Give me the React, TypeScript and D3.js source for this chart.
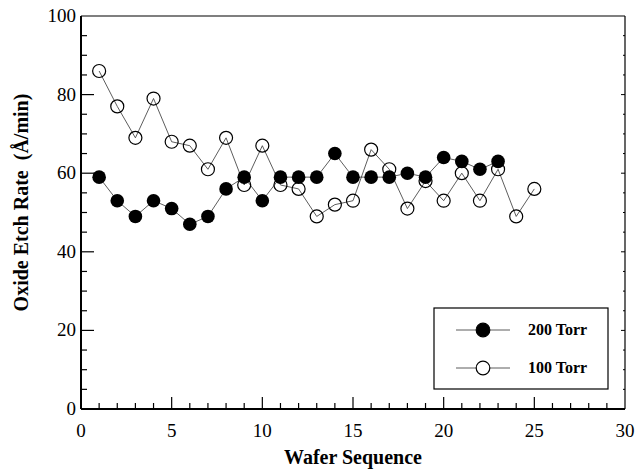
import React, { useEffect, useRef } from 'react';
import * as d3 from 'd3';

// 200 Torr (filled markers), wafers 1..23
const torr200 = [59, 53, 49, 53, 51, 47, 49, 56, 59, 53, 59, 59, 59, 65, 59, 59, 59, 60, 59, 64, 63, 61, 63];
// 100 Torr (open markers), wafers 1..25
const torr100 = [86, 77, 69, 79, 68, 67, 61, 69, 57, 67, 57, 56, 49, 52, 53, 66, 61, 51, 58, 53, 60, 53, 61, 49, 56];

const xTicks = [0, 5, 10, 15, 20, 25, 30];
const yTicks = [0, 20, 40, 60, 80, 100];

export default function App() {
  const ref = useRef<SVGSVGElement>(null);

  useEffect(() => {
    const width = 636;
    const height = 470;
    const margin = { top: 16, right: 11, bottom: 61, left: 81 };
    const font = '"Liberation Serif", "Times New Roman", serif';

    const svg = d3.select(ref.current).attr('viewBox', [0, 0, width, height]);
    svg.selectAll('*').remove();

    const x = d3.scaleLinear().domain([0, 30]).range([margin.left, width - margin.right]);
    const y = d3.scaleLinear().domain([0, 100]).range([height - margin.bottom, margin.top]);

    const g = svg.append('g');

    // frame
    g.append('line').attr('x1', x(0)).attr('x2', x(30)).attr('y1', y(100)).attr('y2', y(100))
      .attr('stroke', '#000').attr('stroke-width', 1.2);
    g.append('line').attr('x1', x(30)).attr('x2', x(30)).attr('y1', y(100)).attr('y2', y(0))
      .attr('stroke', '#000').attr('stroke-width', 1.2);
    g.append('line').attr('x1', x(0)).attr('x2', x(30)).attr('y1', y(0)).attr('y2', y(0))
      .attr('stroke', '#000').attr('stroke-width', 2);
    g.append('line').attr('x1', x(0)).attr('x2', x(0)).attr('y1', y(100)).attr('y2', y(0))
      .attr('stroke', '#000').attr('stroke-width', 2);

    // x ticks (inward)
    d3.range(0, 31).forEach((v) => {
      const len = v % 5 === 0 ? 12 : 6;
      if (v === 0 || v === 30) return;
      g.append('line').attr('x1', x(v)).attr('x2', x(v)).attr('y1', y(0)).attr('y2', y(0) - len)
        .attr('stroke', '#000').attr('stroke-width', 1.2);
    });
    // y ticks (inward), left and right
    d3.range(0, 101, 5).forEach((v) => {
      if (v === 0 || v === 100) return;
      const len = v % 20 === 0 ? 13 : 6;
      g.append('line').attr('x1', x(0)).attr('x2', x(0) + len).attr('y1', y(v)).attr('y2', y(v))
        .attr('stroke', '#000').attr('stroke-width', 1.2);
      g.append('line').attr('x1', x(30)).attr('x2', x(30) - (v % 20 === 0 ? 4 : 2)).attr('y1', y(v)).attr('y2', y(v))
        .attr('stroke', '#000').attr('stroke-width', 1);
    });

    // tick labels
    g.selectAll('.xl').data(xTicks).enter().append('text')
      .attr('x', (d) => x(d)).attr('y', y(0) + 28)
      .attr('text-anchor', 'middle').attr('font-family', font).attr('font-size', 19)
      .text((d) => d);
    g.selectAll('.yl').data(yTicks).enter().append('text')
      .attr('x', x(0) - 5).attr('y', (d) => y(d) + 6)
      .attr('text-anchor', 'end').attr('font-family', font).attr('font-size', 19)
      .text((d) => d);

    // axis titles
    svg.append('text').attr('x', (x(0) + x(30)) / 2).attr('y', 464)
      .attr('text-anchor', 'middle').attr('font-family', font).attr('font-weight', 'bold').attr('font-size', 20)
      .text('Wafer Sequence');
    svg.append('text').attr('transform', `translate(28,${(y(0) + y(100)) / 2 - 10}) rotate(-90)`)
      .attr('text-anchor', 'middle').attr('font-family', font).attr('font-weight', 'bold').attr('font-size', 20)
      .attr('xml:space', 'preserve')
      .text('Oxide Etch Rate  (Å/min)');

    const line = d3.line<number>().x((d, i) => x(i + 1)).y((d) => y(d));

    // 100 Torr
    g.append('path').datum(torr100).attr('d', line).attr('fill', 'none').attr('stroke', '#333').attr('stroke-width', 0.8);
    // 200 Torr
    g.append('path').datum(torr200).attr('d', line).attr('fill', 'none').attr('stroke', '#333').attr('stroke-width', 0.8);

    g.selectAll('.o').data(torr100).enter().append('circle')
      .attr('cx', (d, i) => x(i + 1)).attr('cy', (d) => y(d)).attr('r', 6.5)
      .attr('fill', 'none').attr('stroke', '#000').attr('stroke-width', 1.2);
    g.selectAll('.f').data(torr200).enter().append('circle')
      .attr('cx', (d, i) => x(i + 1)).attr('cy', (d) => y(d)).attr('r', 6.8)
      .attr('fill', '#000');

    // legend
    const lg = svg.append('g');
    lg.append('rect').attr('x', 434).attr('y', 308).attr('width', 174).attr('height', 81)
      .attr('fill', '#fff').attr('stroke', '#000').attr('stroke-width', 1.2);
    const items = [{ label: '200 Torr', filled: true, yy: 330 }, { label: '100 Torr', filled: false, yy: 368 }];
    items.forEach((it) => {
      lg.append('line').attr('x1', 456).attr('x2', 510).attr('y1', it.yy).attr('y2', it.yy)
        .attr('stroke', '#333').attr('stroke-width', 0.8);
      lg.append('circle').attr('cx', 483).attr('cy', it.yy).attr('r', 6.8)
        .attr('fill', it.filled ? '#000' : '#fff').attr('stroke', '#000').attr('stroke-width', 1.2);
      lg.append('text').attr('x', 528).attr('y', it.yy + 5)
        .attr('font-family', font).attr('font-weight', 'bold').attr('font-size', 16)
        .text(it.label);
    });
  });

  return (
    <svg
      ref={ref}
      width={636}
      height={470}
      style={{ position: 'absolute', left: 0, top: 0, background: '#fff' }}
    />
  );
}
